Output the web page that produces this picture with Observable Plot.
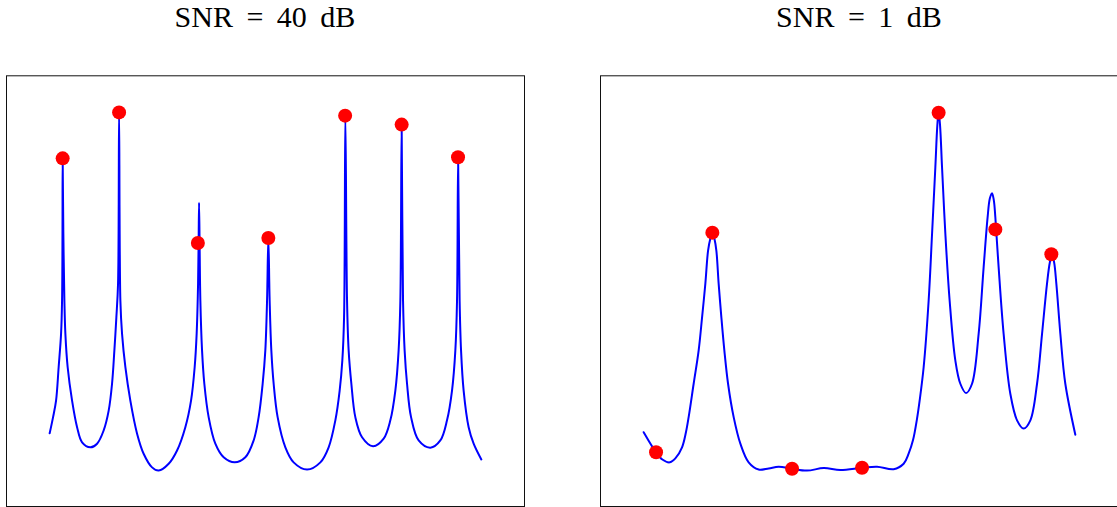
<!DOCTYPE html>
<html>
<head>
<meta charset="utf-8">
<script src="https://cdn.jsdelivr.net/npm/d3@7"></script>
<script src="https://cdn.jsdelivr.net/npm/@observablehq/plot@0.6"></script>
<style>
html, body { margin: 0; padding: 0; background: #fff; overflow: hidden; }
#wrap { position: relative; width: 1117px; height: 507px; overflow: hidden; }
.panel { position: absolute; top: 0; width: 530px; height: 507px; }
.title { position: absolute; top: 2px; left: 0; width: 530px; text-align: center;
  font-family: "Liberation Serif", "Times New Roman", serif; font-size: 30px; line-height: 30px;
  word-spacing: 6px; color: #000; white-space: nowrap; }
.chart { position: absolute; top: 60px; left: 0; }
</style>
</head>
<body>
<div id="wrap"></div>
<script>
// Panel titles
const panelTitles = ["SNR = 40 dB", "SNR = 1 dB"];

// Estimated spectrum, SNR = 40 dB: [normalized frequency, normalized level]
const spectrum40 = [
  [0,.104],[.0079,.149],[.0148,.195],[.0208,.288],[.0264,.381],[.0287,.474],[.0297,.661],[.0301,.872],
  [.0317,.661],[.0341,.474],[.0364,.381],[.0417,.288],[.0519,.195],[.0635,.121],[.0751,.079],
  [.0943,.065],[.1098,.075],[.1251,.112],[.1367,.167],[.1445,.242],[.1499,.335],[.1545,.427],
  [.1584,.521],[.1608,1],
  [.1638,.474],[.1677,.381],[.1754,.288],[.1869,.195],[.2025,.103],[.2177,.047],[.2372,.009],
  [.2525,0],[.2757,.019],[.2951,.056],[.3143,.121],[.3275,.195],[.3359,.288],[.3405,.381],
  [.3438,.521],[.3451,.641],[.3461,.746],[.3475,.613],[.3491,.474],[.3530,.335],[.3583,.242],
  [.3683,.149],[.3838,.075],[.4031,.037],[.4285,.023],[.4533,.037],[.4725,.084],[.4841,.149],
  [.4934,.242],[.4996,.335],[.5036,.474],[.5066,.647],[.5096,.474],[.5135,.335],[.5189,.242],
  [.5281,.149],[.5460,.065],[.5652,.023],[.5963,.003],[.6271,.023],[.6463,.065],[.6618,.140],
  [.6718,.223],[.6780,.307],[.6820,.427],[.6850,.989],[.6889,.474],[.6926,.335],[.6989,.242],
  [.7081,.149],[.7237,.093],[.7491,.068],[.7737,.089],[.7892,.140],[.8008,.223],[.8084,.335],
  [.8124,.474],[.8154,.964],[.8186,.474],[.8223,.335],[.8279,.242],[.8372,.149],[.8548,.084],
  [.8819,.064],[.9050,.084],[.9205,.140],[.9321,.223],[.9398,.335],[.9437,.474],[.9462,.872],
  [.9497,.474],[.9530,.335],[.9590,.223],[.9706,.121],[.9822,.075],[1,.031]
];

// Detected peaks, SNR = 40 dB
const peaks40 = [
  [.0301,.870],[.1608,.998],[.3433,.634],[.5066,.648],[.6845,.989],[.8154,.964],[.9460,.873]
];

// Estimated spectrum, SNR = 1 dB
const spectrum1 = [
  [0,.107],[.0287,.051],[.0433,.031],[.0602,.023],[.0734,.034],[.0889,.065],[.0978,.106],
  [.1042,.149],[.1158,.242],[.1274,.335],[.1353,.427],[.1429,.521],[.1492,.613],[.1545,.647],
  [.1591,.664],[.1638,.647],[.1684,.613],[.1737,.521],[.1800,.427],[.1869,.335],[.1955,.242],
  [.2085,.149],[.2240,.075],[.2432,.023],[.2664,.003],[.2896,.006],[.3127,.011],[.3438,.005],
  [.3785,0],[.4170,.007],[.4556,.002],[.5059,.008],[.5407,.011],[.5791,.004],[.6023,.019],
  [.6138,.047],[.6240,.085],[.6333,.145],[.6393,.195],[.6486,.288],[.6602,.474],[.6681,.660],
  [.6757,.845],[.6803,.962],[.6833,1],[.6866,.962],[.6912,.845],[.6989,.660],[.7088,.474],
  [.7220,.307],[.7336,.242],[.7468,.216],[.7607,.242],[.7760,.381],[.7876,.567],[.7968,.706],
  [.8019,.758],[.8070,.773],[.8112,.753],[.8147,.706],[.8223,.567],[.8339,.381],[.8494,.214],
  [.8650,.140],[.8802,.117],[.8958,.140],[.9113,.242],[.9229,.381],[.9344,.521],[.9409,.580],
  [.9460,.602],[.9509,.580],[.9560,.521],[.9653,.381],[.9768,.242],[1,.100]
];

// Detected peaks, SNR = 1 dB
const peaks1 = [
  [.0287,.051],[.1591,.663],[.3438,.005],[.5059,.008],[.6833,.997],[.8147,.672],[.9444,.603]
];

const wrap = document.getElementById("wrap");

function makePanel(title, spectrum, peaks, left) {
  const div = document.createElement("div");
  div.className = "panel";
  div.style.left = left + "px";
  const t = document.createElement("div");
  t.className = "title";
  t.textContent = title;
  div.appendChild(t);
  const chart = Plot.plot({
    width: 530,
    height: 447,
    marginLeft: 6,
    marginRight: 6,
    marginTop: 15.3,
    marginBottom: 1,
    x: {domain: [-0.1, 1.1], axis: null},
    y: {domain: [-0.1, 1.1], axis: null},
    style: {background: "transparent", overflow: "visible"},
    marks: [
      Plot.frame({stroke: "#111", strokeWidth: 1}),
      Plot.line(spectrum, {x: d => d[0], y: d => d[1], stroke: "#0000ff", strokeWidth: 2, curve: "catmull-rom"}),
      Plot.dot(peaks, {x: d => d[0], y: d => d[1], r: 7, fill: "#ff0000", stroke: "none"})
    ]
  });
  chart.classList.add("chart");
  div.appendChild(chart);
  wrap.appendChild(div);
}

makePanel(panelTitles[0], spectrum40, peaks40, 0);
makePanel(panelTitles[1], spectrum1, peaks1, 594);
</script>
</body>
</html>
